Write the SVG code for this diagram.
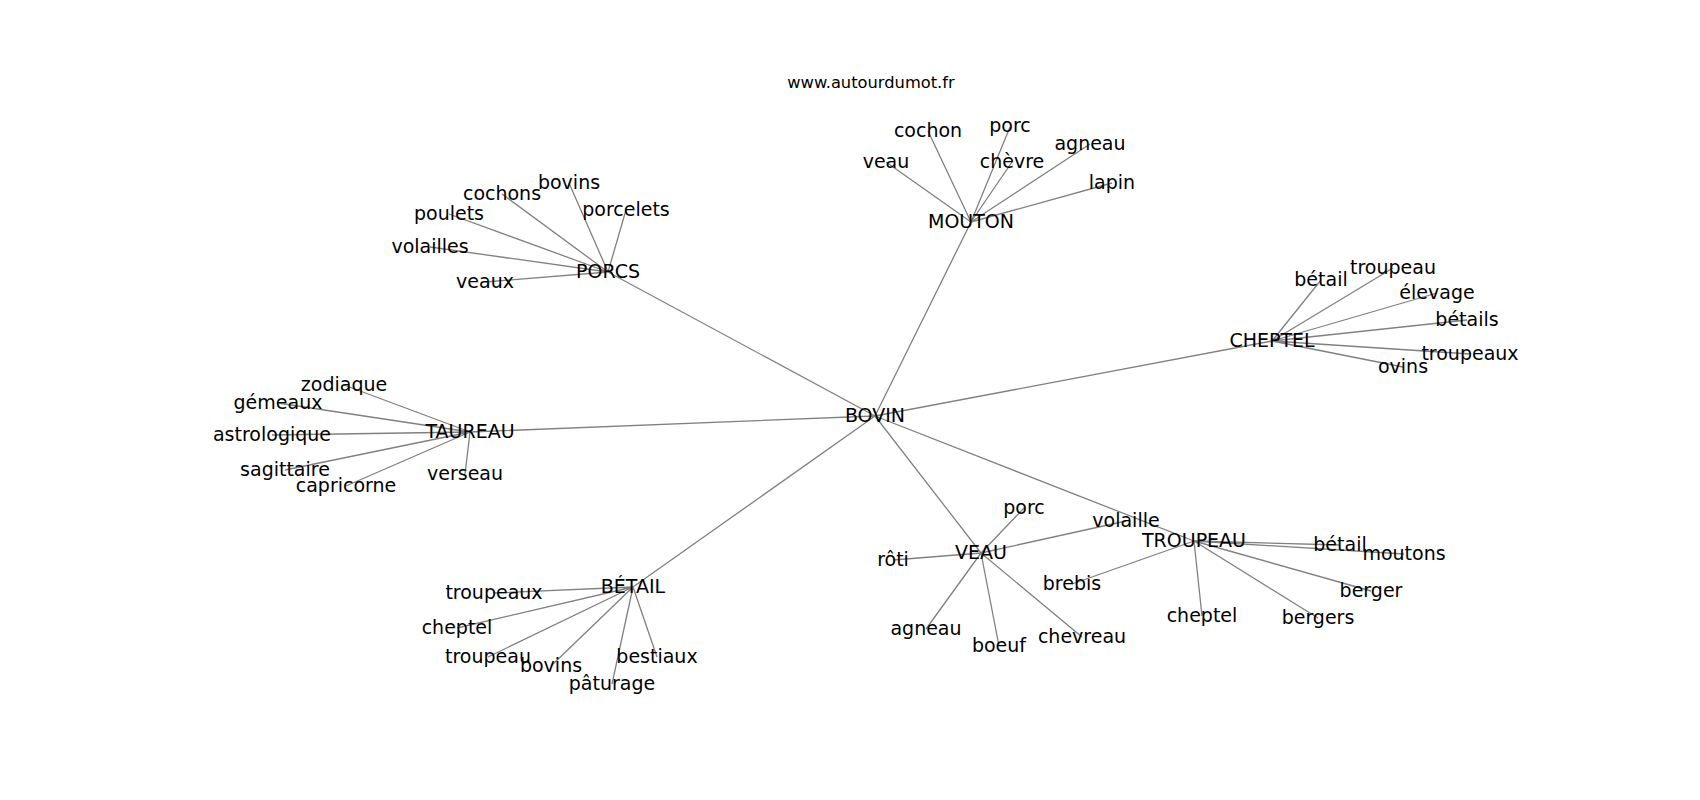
<svg xmlns="http://www.w3.org/2000/svg" width="1700" height="800" viewBox="0 0 1700 800">
<style>
.e{stroke:#808080;stroke-width:1.3;fill:none}
.l{font-family:"DejaVu Sans","Liberation Sans",sans-serif;font-size:19px;fill:#000;text-anchor:middle}
.t{font-family:"DejaVu Sans","Liberation Sans",sans-serif;font-size:16.3px;fill:#000;text-anchor:middle}
</style>
<rect width="1700" height="800" fill="#fff"/>
<text class="t" x="871" y="88">www.autourdumot.fr</text>
<g id="edges">
<path class="e" d="M875,416L608,272M875,416L971,222M875,416L1272,341M875,416L470,432M875,416L633,587M875,416L981,553M875,416L1194,541"/>
<path class="e" d="M608,272L569,183M608,272L502,194M608,272L626,210M608,272L449,214M608,272L430,247M608,272L485,282"/>
<path class="e" d="M971,222L886,162M971,222L928,131M971,222L1010,127M971,222L1012,162M971,222L1090,144M971,222L1112,183"/>
<path class="e" d="M1272,341L1321,280M1272,341L1393,268M1272,341L1437,293M1272,341L1467,320M1272,341L1470,354M1272,341L1403,367"/>
<path class="e" d="M470,432L344,385M470,432L278,403M470,432L272,435M470,432L285,470M470,432L346,486M470,432L465,474"/>
<path class="e" d="M633,587L494,593M633,587L457,628M633,587L488,657M633,587L551,666M633,587L657,657M633,587L612,684"/>
<path class="e" d="M981,553L1024,508M981,553L893,560M981,553L1126,521M981,553L926,629M981,553L999,646M981,553L1082,637"/>
<path class="e" d="M1194,541L1340,545M1194,541L1404,554M1194,541L1072,584M1194,541L1371,591M1194,541L1318,618M1194,541L1202,616"/>
</g>
<g id="n-bovin"><text class="l" x="875" y="422">BOVIN</text></g>
<g id="n-porcs"><text class="l" x="608" y="278">PORCS</text></g>
<g id="n-mouton"><text class="l" x="971" y="228">MOUTON</text></g>
<g id="n-cheptel"><text class="l" x="1272" y="347">CHEPTEL</text></g>
<g id="n-taureau"><text class="l" x="470" y="438">TAUREAU</text></g>
<g id="n-betail"><text class="l" x="633" y="593">BÉTAIL</text></g>
<g id="n-veau"><text class="l" x="981" y="559">VEAU</text></g>
<g id="n-troupeau"><text class="l" x="1194" y="547">TROUPEAU</text></g>
<g id="porcs-leaves">
<g id="p-bovins"><text class="l" x="569" y="189">bovins</text></g>
<g id="p-cochons"><text class="l" x="502" y="200">cochons</text></g>
<g id="p-porcelets"><text class="l" x="626" y="216">porcelets</text></g>
<g id="p-poulets"><text class="l" x="449" y="220">poulets</text></g>
<g id="p-volailles"><text class="l" x="430" y="253">volailles</text></g>
<g id="p-veaux"><text class="l" x="485" y="288">veaux</text></g>
</g>
<g id="mouton-leaves">
<g id="m-veau"><text class="l" x="886" y="168">veau</text></g>
<g id="m-cochon"><text class="l" x="928" y="137">cochon</text></g>
<g id="m-porc"><text class="l" x="1010" y="132">porc</text></g>
<g id="m-chevre"><text class="l" x="1012" y="168">chèvre</text></g>
<g id="m-agneau"><text class="l" x="1090" y="150">agneau</text></g>
<g id="m-lapin"><text class="l" x="1112" y="189">lapin</text></g>
</g>
<g id="cheptel-leaves">
<g id="c-betail"><text class="l" x="1321" y="286">bétail</text></g>
<g id="c-troupeau"><text class="l" x="1393" y="274">troupeau</text></g>
<g id="c-elevage"><text class="l" x="1437" y="299">élevage</text></g>
<g id="c-betails"><text class="l" x="1467" y="326">bétails</text></g>
<g id="c-troupeaux"><text class="l" x="1470" y="360">troupeaux</text></g>
<g id="c-ovins"><text class="l" x="1403" y="373">ovins</text></g>
</g>
<g id="taureau-leaves">
<g id="t-zodiaque"><text class="l" x="344" y="391">zodiaque</text></g>
<g id="t-gemeaux"><text class="l" x="278" y="409">gémeaux</text></g>
<g id="t-astrologique"><text class="l" x="272" y="441">astrologique</text></g>
<g id="t-sagittaire"><text class="l" x="285" y="476">sagittaire</text></g>
<g id="t-capricorne"><text class="l" x="346" y="492">capricorne</text></g>
<g id="t-verseau"><text class="l" x="465" y="480">verseau</text></g>
</g>
<g id="betail-leaves">
<g id="b-troupeaux"><text class="l" x="494" y="599">troupeaux</text></g>
<g id="b-cheptel"><text class="l" x="457" y="634">cheptel</text></g>
<g id="b-troupeau"><text class="l" x="488" y="663">troupeau</text></g>
<g id="b-bovins"><text class="l" x="551" y="672">bovins</text></g>
<g id="b-bestiaux"><text class="l" x="657" y="663">bestiaux</text></g>
<g id="b-paturage"><text class="l" x="612" y="690">pâturage</text></g>
</g>
<g id="veau-leaves">
<g id="v-porc"><text class="l" x="1024" y="514">porc</text></g>
<g id="v-roti"><text class="l" x="893" y="566">rôti</text></g>
<g id="v-volaille"><text class="l" x="1126" y="527">volaille</text></g>
<g id="v-agneau"><text class="l" x="926" y="635">agneau</text></g>
<g id="v-boeuf"><text class="l" x="999" y="652">boeuf</text></g>
<g id="v-chevreau"><text class="l" x="1082" y="643">chevreau</text></g>
</g>
<g id="troupeau-leaves">
<g id="r-betail"><text class="l" x="1340" y="551">bétail</text></g>
<g id="r-moutons"><text class="l" x="1404" y="560">moutons</text></g>
<g id="r-brebis"><text class="l" x="1072" y="590">brebis</text></g>
<g id="r-berger"><text class="l" x="1371" y="597">berger</text></g>
<g id="r-bergers"><text class="l" x="1318" y="624">bergers</text></g>
<g id="r-cheptel"><text class="l" x="1202" y="622">cheptel</text></g>
</g>
</svg>
